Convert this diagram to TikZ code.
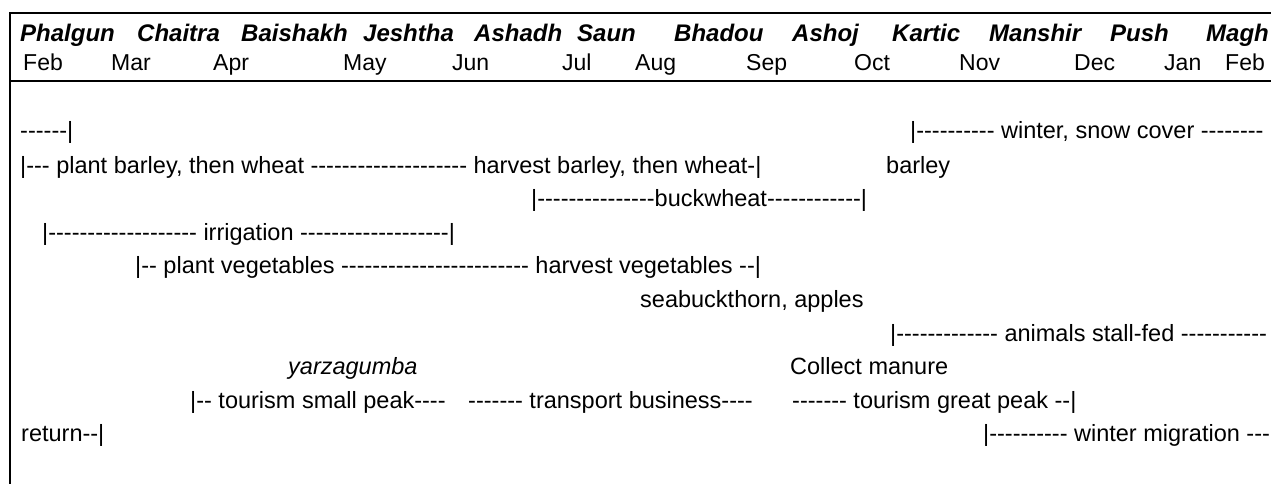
\documentclass[tikz,border=0pt]{standalone}
\usepackage{fontspec}
\newfontfamily\arialfont{Liberation Sans}
\usetikzlibrary{positioning}

\begin{document}
\begin{tikzpicture}[
        x=1pt, y=-1pt,
        font=\arialfont\fontsize{23.5}{28}\selectfont,
        txt/.style={anchor=base west, inner sep=0pt},
        mon/.style={txt, font=\arialfont\fontsize{23}{28}\selectfont},
        nep/.style={txt, font=\arialfont\fontsize{24}{28}\selectfont\bfseries\itshape},
        rule/.style={line width=2.4pt}
    ]
    \useasboundingbox (0,0) rectangle (1271,484);

    % Frame
    \coordinate (tl) at (10,13);
    \coordinate (tr) at (1271,13);
    \coordinate (ml) at (10,81);
    \coordinate (mr) at (1271,81);
    \coordinate (bl) at (10,484);
    \draw[rule] (tr) -- (tl) -- (bl);
    \draw[rule] (ml) -- (mr);

    % Nepali months
    \node[nep] (phalgun)  at (20,42)   {Phalgun};
    \node[nep] (chaitra)  at (137,42)  {Chaitra};
    \node[nep] (baishakh) at (241,42)  {Baishakh};
    \node[nep] (jeshtha)  at (363,42)  {Jeshtha};
    \node[nep] (ashadh)   at (474,42)  {Ashadh};
    \node[nep] (saun)     at (577,42)  {Saun};
    \node[nep] (bhadou)   at (674,42)  {Bhadou};
    \node[nep] (ashoj)    at (792,42)  {Ashoj};
    \node[nep] (kartic)   at (892,42)  {Kartic};
    \node[nep] (manshir)  at (989,42)  {Manshir};
    \node[nep] (push)     at (1110,42) {Push};
    \node[nep] (magh)     at (1206,42) {Magh};

    % Western months
    \node[mon] (feba) at (23,71)   {Feb};
    \node[mon] (mar)  at (111,71)  {Mar};
    \node[mon] (apr)  at (213,71)  {Apr};
    \node[mon] (may)  at (343,71)  {May};
    \node[mon] (jun)  at (452,71)  {Jun};
    \node[mon] (jul)  at (562,71)  {Jul};
    \node[mon] (aug)  at (635,71)  {Aug};
    \node[mon] (sep)  at (746,71)  {Sep};
    \node[mon] (oct)  at (854,71)  {Oct};
    \node[mon] (nov)  at (959,71)  {Nov};
    \node[mon] (dec)  at (1074,71) {Dec};
    \node[mon] (jan)  at (1164,71) {Jan};
    \node[mon] (febb) at (1225,71) {Feb};

    % Crops
    \node[txt] (wheatend) at (20,139) {------|};
    \node[txt] (wheat) at (20,173)
        {|--- plant barley, then wheat -------------------- harvest barley, then wheat-|};
    \node[txt] (barley) at (886,173) {barley};
    \node[txt] (buckwheat) at (531,206) {|---------------buckwheat------------|};
    \node[txt] (irrigation) at (42,240) {|------------------- irrigation -------------------|};
    \node[txt] (veg) at (135,273)
        {|-- plant vegetables ------------------------ harvest vegetables --|};
    \node[txt] (fruit) at (640,307) {seabuckthorn, apples};

    % Animals, winter
    \node[txt] (snow) at (910,139) {|---------- winter, snow cover --------};
    \node[txt] (stall) at (890,341) {|------------- animals stall-fed -----------};
    \node[txt] (manure) at (790,374) {Collect manure};

    % Other income
    \node[txt, font=\arialfont\fontsize{23.5}{28}\selectfont\itshape] (yarza) at (288,374) {yarzagumba};
    \node[txt] (smallpeak) at (190,408) {|-- tourism small peak----};
    \node[txt] (transport) at (468,408) {------- transport business----};
    \node[txt] (greatpeak) at (792,408) {------- tourism great peak --|};
    \node[txt] (return) at (21,441) {return--|};
    \node[txt] (migration) at (983,441) {|---------- winter migration ---};

\end{tikzpicture}
\end{document}
